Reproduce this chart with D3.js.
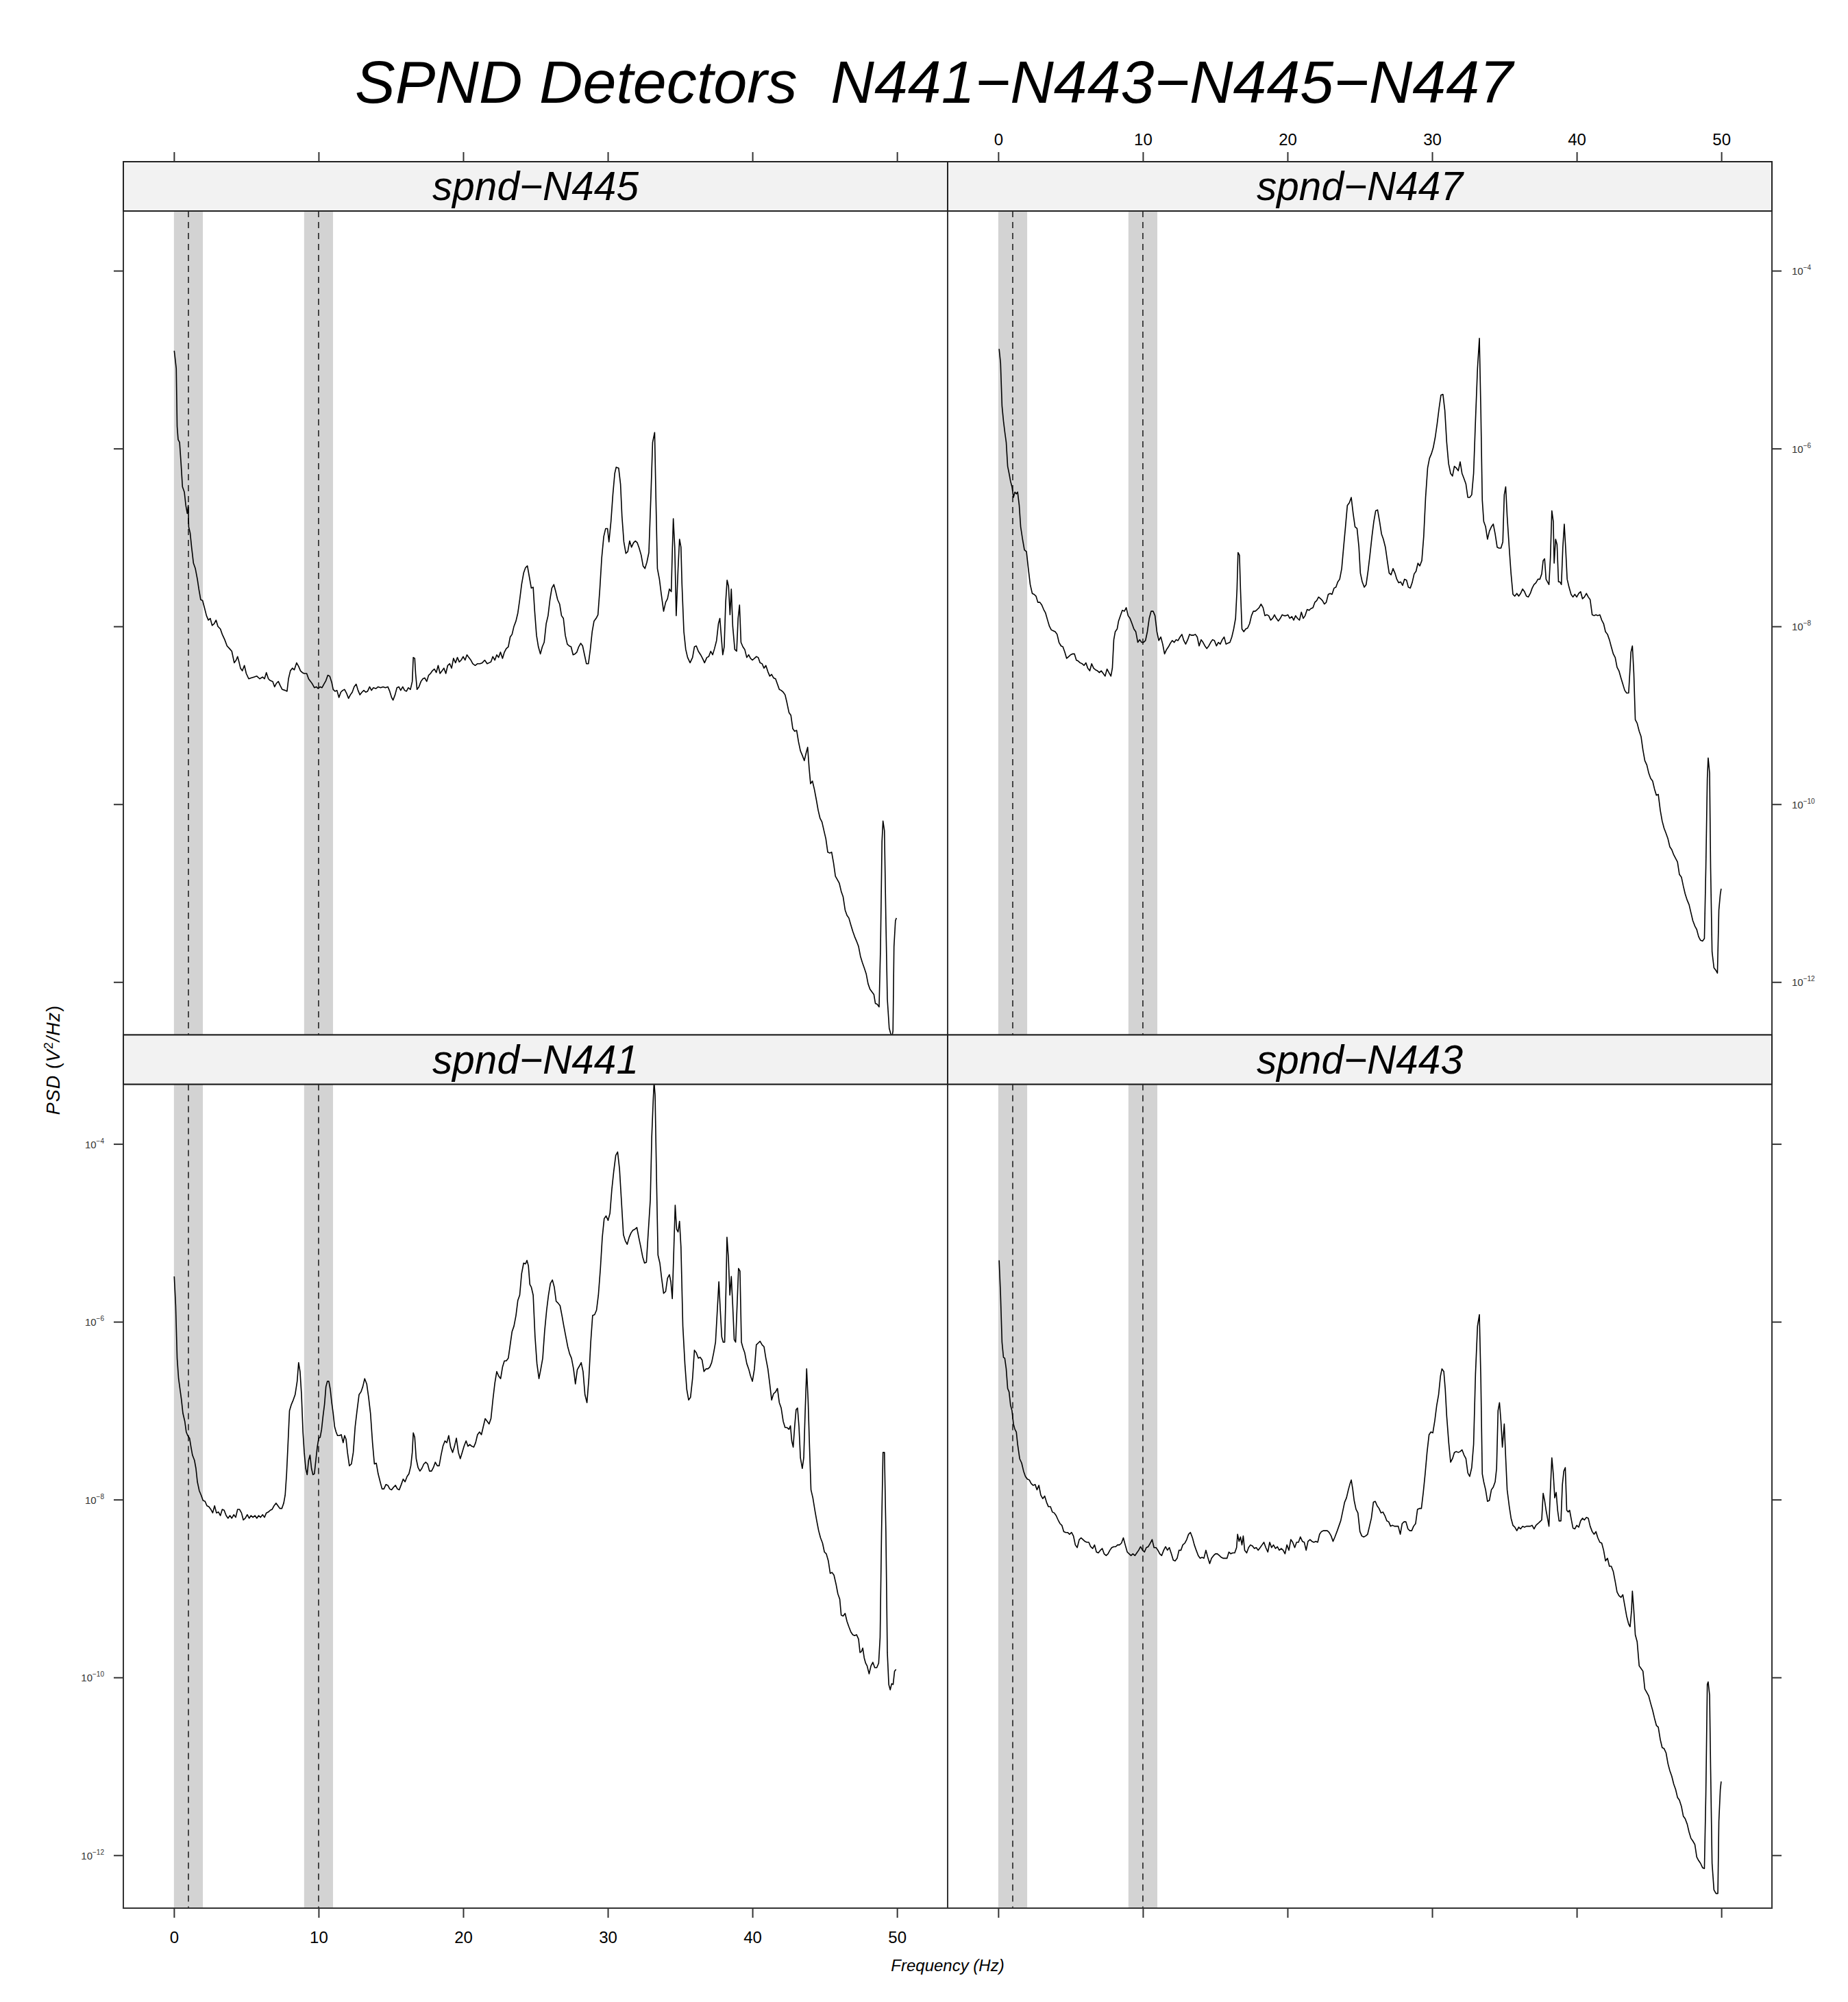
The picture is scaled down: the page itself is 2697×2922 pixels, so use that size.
<!DOCTYPE html>
<html><head><meta charset="utf-8">
<script src="https://cdn.jsdelivr.net/npm/d3@7"></script>
<style>
body{margin:0;background:#fff}
text{font-family:"Liberation Sans",Arial,Helvetica,sans-serif}
</style>
</head><body>
<svg id="chart"></svg>
<script>
// ---------------- data ----------------
const chartTitle = "SPND Detectors  N441\u2212N443\u2212N445\u2212N447";
const panelNames = ["spnd\u2212N445","spnd\u2212N447","spnd\u2212N441","spnd\u2212N443"];
const xTickValues = [0,10,20,30,40,50];
const yTickExponents = [-4,-6,-8,-10,-12];
const bandCenters = [1,10];      // Hz, dashed lines
const bandHalfWidth = 1;         // Hz, grey bands
const xLabel = "Frequency (Hz)";

// [frequency (Hz), log10 PSD (V^2/Hz)]
const seriesN445 = [[0.02,-4.90],[0.16,-5.10],[0.22,-5.75],[0.29,-5.90],[0.39,-5.93],[0.49,-6.17],[0.59,-6.43],[0.72,-6.49],[0.82,-6.64],[0.92,-6.73],[0.99,-6.64],[1.02,-6.88],[1.12,-6.95],[1.22,-7.11],[1.35,-7.29],[1.48,-7.35],[1.62,-7.47],[1.72,-7.58],[1.85,-7.70],[1.98,-7.71],[2.11,-7.79],[2.25,-7.88],[2.38,-7.93],[2.51,-7.91],[2.64,-7.99],[2.78,-7.97],[2.91,-7.93],[3.04,-8.00],[3.21,-8.03],[3.34,-8.09],[3.51,-8.15],[3.67,-8.22],[3.84,-8.25],[4.00,-8.28],[4.17,-8.41],[4.30,-8.38],[4.40,-8.34],[4.50,-8.40],[4.60,-8.47],[4.73,-8.50],[4.87,-8.44],[5.00,-8.53],[5.17,-8.59],[5.33,-8.58],[5.53,-8.57],[5.73,-8.56],[5.93,-8.59],[6.13,-8.57],[6.26,-8.59],[6.39,-8.52],[6.53,-8.59],[6.66,-8.61],[6.83,-8.62],[6.96,-8.68],[7.09,-8.64],[7.22,-8.62],[7.36,-8.67],[7.49,-8.71],[7.69,-8.72],[7.82,-8.73],[7.92,-8.59],[8.05,-8.50],[8.19,-8.47],[8.32,-8.49],[8.48,-8.41],[8.62,-8.45],[8.75,-8.50],[8.88,-8.52],[9.01,-8.53],[9.18,-8.53],[9.31,-8.59],[9.45,-8.62],[9.58,-8.65],[9.71,-8.69],[9.84,-8.68],[9.98,-8.70],[10.11,-8.68],[10.24,-8.69],[10.37,-8.65],[10.51,-8.61],[10.64,-8.55],[10.77,-8.56],[10.91,-8.63],[11.01,-8.71],[11.14,-8.73],[11.27,-8.72],[11.41,-8.80],[11.54,-8.74],[11.67,-8.72],[11.80,-8.71],[11.93,-8.75],[12.07,-8.81],[12.20,-8.77],[12.33,-8.74],[12.46,-8.68],[12.60,-8.65],[12.73,-8.72],[12.86,-8.77],[13.00,-8.74],[13.13,-8.72],[13.26,-8.74],[13.39,-8.73],[13.53,-8.68],[13.66,-8.72],[13.79,-8.69],[13.96,-8.70],[14.12,-8.68],[14.29,-8.69],[14.46,-8.68],[14.62,-8.69],[14.79,-8.68],[14.92,-8.73],[15.05,-8.80],[15.15,-8.83],[15.29,-8.77],[15.42,-8.69],[15.55,-8.68],[15.68,-8.72],[15.82,-8.68],[15.95,-8.72],[16.08,-8.73],[16.21,-8.69],[16.35,-8.71],[16.48,-8.62],[16.55,-8.35],[16.65,-8.36],[16.71,-8.53],[16.81,-8.71],[16.94,-8.68],[17.08,-8.62],[17.21,-8.59],[17.34,-8.58],[17.48,-8.62],[17.61,-8.55],[17.74,-8.53],[17.87,-8.50],[18.01,-8.48],[18.14,-8.52],[18.27,-8.44],[18.40,-8.53],[18.54,-8.50],[18.67,-8.47],[18.80,-8.53],[18.93,-8.44],[19.07,-8.42],[19.20,-8.47],[19.33,-8.36],[19.47,-8.41],[19.60,-8.35],[19.73,-8.40],[19.86,-8.38],[20.00,-8.34],[20.13,-8.38],[20.26,-8.32],[20.39,-8.35],[20.53,-8.38],[20.66,-8.42],[20.83,-8.44],[20.99,-8.42],[21.16,-8.42],[21.32,-8.41],[21.49,-8.38],[21.66,-8.42],[21.79,-8.41],[21.92,-8.40],[22.05,-8.34],[22.19,-8.38],[22.32,-8.32],[22.45,-8.35],[22.58,-8.29],[22.72,-8.36],[22.85,-8.29],[22.98,-8.25],[23.12,-8.23],[23.25,-8.12],[23.38,-8.09],[23.51,-8.00],[23.65,-7.94],[23.78,-7.85],[23.91,-7.70],[24.04,-7.53],[24.18,-7.40],[24.31,-7.34],[24.44,-7.32],[24.57,-7.44],[24.71,-7.57],[24.84,-7.56],[24.94,-7.82],[25.07,-8.10],[25.20,-8.23],[25.34,-8.31],[25.47,-8.23],[25.60,-8.18],[25.74,-7.97],[25.87,-7.88],[26.00,-7.70],[26.13,-7.57],[26.27,-7.53],[26.40,-7.61],[26.53,-7.70],[26.67,-7.75],[26.80,-7.88],[26.93,-7.91],[27.06,-8.10],[27.20,-8.20],[27.33,-8.22],[27.46,-8.23],[27.60,-8.32],[27.73,-8.31],[27.86,-8.29],[27.99,-8.23],[28.13,-8.19],[28.26,-8.22],[28.39,-8.32],[28.52,-8.42],[28.66,-8.42],[28.79,-8.26],[28.92,-8.06],[29.05,-7.94],[29.19,-7.91],[29.32,-7.87],[29.45,-7.58],[29.58,-7.23],[29.72,-6.99],[29.85,-6.90],[29.98,-6.90],[30.08,-7.05],[30.22,-6.82],[30.35,-6.52],[30.48,-6.28],[30.58,-6.21],[30.75,-6.22],[30.88,-6.40],[30.98,-6.76],[31.11,-7.05],[31.25,-7.18],[31.38,-7.16],[31.51,-7.04],[31.64,-7.11],[31.78,-7.06],[31.91,-7.04],[32.04,-7.06],[32.17,-7.12],[32.31,-7.20],[32.44,-7.32],[32.57,-7.35],[32.70,-7.28],[32.84,-7.17],[32.97,-6.58],[33.10,-5.93],[33.24,-5.82],[33.33,-6.58],[33.43,-7.35],[33.57,-7.47],[33.70,-7.64],[33.86,-7.83],[34.00,-7.73],[34.13,-7.69],[34.26,-7.58],[34.39,-7.61],[34.46,-7.17],[34.53,-6.79],[34.63,-7.11],[34.73,-7.88],[34.86,-7.35],[34.96,-7.02],[35.06,-7.11],[35.13,-7.53],[35.26,-8.06],[35.39,-8.26],[35.52,-8.35],[35.69,-8.41],[35.86,-8.35],[35.99,-8.23],[36.12,-8.22],[36.26,-8.28],[36.42,-8.32],[36.55,-8.36],[36.69,-8.41],[36.85,-8.35],[36.98,-8.34],[37.12,-8.28],[37.25,-8.32],[37.38,-8.25],[37.52,-8.16],[37.65,-7.97],[37.75,-7.91],[37.85,-8.12],[37.95,-8.32],[38.05,-8.23],[38.15,-7.73],[38.25,-7.48],[38.35,-7.55],[38.45,-7.87],[38.54,-7.58],[38.64,-8.00],[38.78,-8.26],[38.91,-8.28],[39.01,-7.91],[39.11,-7.76],[39.21,-8.18],[39.34,-8.23],[39.47,-8.26],[39.61,-8.35],[39.74,-8.32],[39.87,-8.36],[40.00,-8.38],[40.14,-8.36],[40.27,-8.34],[40.40,-8.35],[40.53,-8.41],[40.67,-8.42],[40.80,-8.47],[40.93,-8.44],[41.07,-8.51],[41.20,-8.56],[41.33,-8.54],[41.46,-8.58],[41.60,-8.59],[41.73,-8.65],[41.86,-8.71],[41.99,-8.72],[42.13,-8.74],[42.26,-8.77],[42.39,-8.86],[42.53,-8.97],[42.66,-9.00],[42.79,-9.15],[42.92,-9.18],[43.06,-9.17],[43.19,-9.30],[43.32,-9.40],[43.45,-9.45],[43.59,-9.51],[43.72,-9.42],[43.82,-9.36],[43.92,-9.59],[44.02,-9.77],[44.15,-9.74],[44.28,-9.83],[44.42,-9.95],[44.55,-10.07],[44.68,-10.16],[44.81,-10.20],[44.95,-10.30],[45.08,-10.39],[45.21,-10.54],[45.35,-10.55],[45.48,-10.54],[45.61,-10.66],[45.74,-10.81],[45.88,-10.85],[46.01,-10.89],[46.14,-10.98],[46.27,-11.04],[46.41,-11.19],[46.54,-11.25],[46.67,-11.28],[46.81,-11.36],[46.94,-11.43],[47.07,-11.49],[47.20,-11.54],[47.34,-11.60],[47.47,-11.71],[47.60,-11.78],[47.73,-11.84],[47.87,-11.91],[48.00,-12.02],[48.13,-12.08],[48.26,-12.11],[48.40,-12.14],[48.50,-12.24],[48.63,-12.25],[48.76,-12.28],[48.86,-11.60],[48.96,-10.42],[49.03,-10.19],[49.13,-10.30],[49.23,-11.31],[49.33,-12.19],[49.46,-12.52],[49.56,-12.58],[49.66,-12.61],[49.72,-12.55],[49.79,-11.60],[49.89,-11.31],[49.96,-11.28]];

const seriesN447 = [[0.06,-4.88],[0.16,-5.04],[0.26,-5.52],[0.36,-5.69],[0.45,-5.81],[0.55,-5.93],[0.65,-6.20],[0.75,-6.28],[0.85,-6.37],[0.95,-6.43],[1.05,-6.55],[1.15,-6.49],[1.25,-6.51],[1.34,-6.49],[1.45,-6.64],[1.55,-6.88],[1.68,-7.02],[1.81,-7.14],[1.95,-7.16],[2.08,-7.35],[2.21,-7.53],[2.35,-7.63],[2.48,-7.64],[2.61,-7.66],[2.74,-7.73],[2.88,-7.73],[3.01,-7.76],[3.14,-7.81],[3.27,-7.85],[3.41,-7.93],[3.54,-8.00],[3.67,-8.04],[3.81,-8.05],[3.94,-8.06],[4.07,-8.09],[4.20,-8.18],[4.34,-8.22],[4.47,-8.23],[4.60,-8.29],[4.73,-8.36],[4.87,-8.34],[5.00,-8.32],[5.13,-8.31],[5.27,-8.31],[5.40,-8.38],[5.53,-8.39],[5.66,-8.41],[5.80,-8.42],[5.93,-8.44],[6.06,-8.41],[6.19,-8.47],[6.33,-8.50],[6.46,-8.42],[6.59,-8.47],[6.73,-8.49],[6.86,-8.50],[6.99,-8.52],[7.12,-8.50],[7.26,-8.53],[7.39,-8.56],[7.52,-8.48],[7.65,-8.52],[7.79,-8.56],[7.89,-8.47],[7.99,-8.15],[8.09,-8.06],[8.22,-8.03],[8.32,-7.94],[8.45,-7.88],[8.58,-7.82],[8.72,-7.83],[8.85,-7.79],[8.98,-7.88],[9.11,-7.91],[9.25,-7.97],[9.38,-8.03],[9.51,-8.06],[9.65,-8.18],[9.78,-8.15],[9.91,-8.18],[10.04,-8.18],[10.18,-8.16],[10.31,-8.06],[10.44,-7.91],[10.57,-7.83],[10.71,-7.83],[10.84,-7.88],[10.97,-8.06],[11.10,-8.16],[11.24,-8.12],[11.37,-8.20],[11.50,-8.31],[11.64,-8.26],[11.77,-8.23],[11.90,-8.19],[12.03,-8.16],[12.17,-8.18],[12.30,-8.15],[12.43,-8.16],[12.57,-8.12],[12.70,-8.09],[12.83,-8.16],[12.96,-8.20],[13.10,-8.15],[13.23,-8.09],[13.36,-8.10],[13.49,-8.10],[13.63,-8.09],[13.76,-8.12],[13.89,-8.22],[14.03,-8.15],[14.16,-8.18],[14.29,-8.22],[14.42,-8.25],[14.56,-8.22],[14.69,-8.18],[14.82,-8.15],[14.95,-8.16],[15.09,-8.22],[15.22,-8.18],[15.35,-8.20],[15.49,-8.15],[15.62,-8.12],[15.75,-8.20],[15.88,-8.19],[16.02,-8.18],[16.15,-8.12],[16.28,-8.03],[16.41,-7.91],[16.51,-7.58],[16.58,-7.17],[16.68,-7.20],[16.75,-7.58],[16.85,-8.03],[16.98,-8.06],[17.11,-8.03],[17.24,-8.02],[17.38,-7.97],[17.51,-7.88],[17.64,-7.83],[17.77,-7.83],[17.91,-7.81],[18.04,-7.79],[18.17,-7.75],[18.31,-7.79],[18.44,-7.88],[18.57,-7.87],[18.70,-7.88],[18.84,-7.93],[18.97,-7.91],[19.10,-7.87],[19.23,-7.91],[19.37,-7.94],[19.50,-7.91],[19.63,-7.87],[19.76,-7.88],[19.90,-7.88],[20.03,-7.87],[20.16,-7.91],[20.30,-7.89],[20.43,-7.93],[20.56,-7.88],[20.69,-7.91],[20.83,-7.93],[20.96,-7.84],[21.09,-7.91],[21.22,-7.88],[21.36,-7.81],[21.49,-7.82],[21.62,-7.80],[21.76,-7.79],[21.89,-7.73],[22.02,-7.71],[22.15,-7.67],[22.29,-7.69],[22.42,-7.71],[22.55,-7.75],[22.68,-7.73],[22.82,-7.64],[22.95,-7.63],[23.08,-7.64],[23.22,-7.57],[23.35,-7.56],[23.48,-7.50],[23.61,-7.47],[23.75,-7.35],[23.88,-7.11],[24.01,-6.88],[24.14,-6.64],[24.28,-6.61],[24.41,-6.55],[24.54,-6.73],[24.67,-6.88],[24.81,-6.90],[24.94,-7.11],[25.04,-7.40],[25.17,-7.50],[25.31,-7.56],[25.44,-7.53],[25.57,-7.38],[25.70,-7.20],[25.84,-6.99],[25.97,-6.82],[26.10,-6.70],[26.23,-6.69],[26.37,-6.82],[26.50,-6.96],[26.63,-7.02],[26.77,-7.11],[26.90,-7.26],[27.03,-7.40],[27.16,-7.42],[27.30,-7.35],[27.43,-7.40],[27.56,-7.47],[27.69,-7.51],[27.83,-7.50],[27.96,-7.54],[28.09,-7.47],[28.23,-7.48],[28.36,-7.56],[28.49,-7.57],[28.62,-7.51],[28.76,-7.41],[28.89,-7.38],[29.02,-7.29],[29.15,-7.32],[29.29,-7.26],[29.42,-6.99],[29.55,-6.55],[29.69,-6.22],[29.82,-6.11],[29.95,-6.06],[30.08,-5.99],[30.22,-5.87],[30.35,-5.72],[30.48,-5.55],[30.61,-5.40],[30.75,-5.39],[30.88,-5.57],[31.01,-5.93],[31.14,-6.17],[31.28,-6.28],[31.41,-6.31],[31.54,-6.20],[31.68,-6.22],[31.81,-6.25],[31.94,-6.15],[32.07,-6.28],[32.21,-6.34],[32.34,-6.40],[32.47,-6.55],[32.60,-6.55],[32.74,-6.52],[32.87,-6.28],[33.00,-5.69],[33.14,-5.10],[33.27,-4.76],[33.37,-5.57],[33.47,-6.58],[33.57,-6.82],[33.70,-6.88],[33.83,-7.02],[33.96,-6.93],[34.10,-6.88],[34.23,-6.85],[34.36,-6.96],[34.50,-7.11],[34.63,-7.12],[34.76,-7.12],[34.89,-7.05],[34.99,-6.52],[35.09,-6.43],[35.19,-6.76],[35.33,-7.11],[35.46,-7.41],[35.59,-7.64],[35.72,-7.66],[35.86,-7.63],[35.99,-7.66],[36.12,-7.63],[36.26,-7.58],[36.39,-7.61],[36.52,-7.66],[36.65,-7.67],[36.79,-7.63],[36.92,-7.57],[37.05,-7.53],[37.18,-7.51],[37.32,-7.47],[37.45,-7.47],[37.58,-7.41],[37.68,-7.26],[37.78,-7.24],[37.88,-7.47],[37.98,-7.50],[38.08,-7.53],[38.18,-7.23],[38.28,-6.70],[38.38,-6.82],[38.44,-7.29],[38.54,-7.02],[38.64,-7.08],[38.74,-7.50],[38.84,-7.50],[38.94,-7.53],[39.04,-7.11],[39.14,-6.85],[39.24,-7.14],[39.34,-7.47],[39.47,-7.56],[39.61,-7.64],[39.74,-7.67],[39.87,-7.64],[40.00,-7.67],[40.14,-7.63],[40.27,-7.61],[40.40,-7.69],[40.53,-7.67],[40.67,-7.63],[40.80,-7.67],[40.93,-7.70],[41.07,-7.87],[41.20,-7.88],[41.33,-7.87],[41.46,-7.88],[41.60,-7.87],[41.73,-7.93],[41.86,-7.97],[41.99,-8.06],[42.13,-8.09],[42.26,-8.15],[42.39,-8.23],[42.53,-8.31],[42.66,-8.35],[42.79,-8.46],[42.92,-8.50],[43.06,-8.58],[43.19,-8.65],[43.32,-8.72],[43.45,-8.75],[43.59,-8.75],[43.69,-8.47],[43.75,-8.29],[43.85,-8.22],[43.95,-8.53],[44.05,-9.05],[44.18,-9.09],[44.32,-9.18],[44.45,-9.24],[44.58,-9.39],[44.71,-9.51],[44.85,-9.56],[44.98,-9.65],[45.11,-9.71],[45.25,-9.74],[45.38,-9.83],[45.51,-9.90],[45.64,-9.89],[45.78,-10.07],[45.91,-10.19],[46.04,-10.27],[46.18,-10.33],[46.31,-10.39],[46.44,-10.48],[46.57,-10.51],[46.71,-10.57],[46.84,-10.61],[46.97,-10.65],[47.10,-10.79],[47.24,-10.82],[47.37,-10.92],[47.50,-11.01],[47.64,-11.08],[47.77,-11.13],[47.90,-11.22],[48.03,-11.31],[48.17,-11.37],[48.30,-11.41],[48.43,-11.49],[48.56,-11.53],[48.70,-11.54],[48.83,-11.51],[48.93,-10.72],[49.03,-9.71],[49.09,-9.48],[49.19,-9.65],[49.26,-10.72],[49.36,-11.66],[49.49,-11.84],[49.63,-11.87],[49.73,-11.90],[49.83,-11.19],[49.93,-11.01],[49.99,-10.95]];

const seriesN441 = [[0.02,-5.49],[0.12,-5.82],[0.22,-6.41],[0.32,-6.64],[0.42,-6.76],[0.52,-6.88],[0.62,-7.03],[0.75,-7.12],[0.85,-7.24],[0.95,-7.28],[1.08,-7.31],[1.18,-7.41],[1.28,-7.50],[1.42,-7.56],[1.52,-7.65],[1.62,-7.80],[1.75,-7.90],[1.88,-7.95],[2.01,-8.01],[2.15,-8.02],[2.28,-8.07],[2.41,-8.08],[2.55,-8.11],[2.68,-8.15],[2.81,-8.07],[2.94,-8.15],[3.08,-8.14],[3.21,-8.18],[3.34,-8.11],[3.47,-8.12],[3.61,-8.18],[3.74,-8.21],[3.87,-8.18],[4.00,-8.21],[4.14,-8.17],[4.27,-8.20],[4.40,-8.11],[4.53,-8.11],[4.67,-8.15],[4.80,-8.23],[4.93,-8.21],[5.07,-8.17],[5.20,-8.21],[5.33,-8.18],[5.46,-8.20],[5.60,-8.18],[5.73,-8.21],[5.86,-8.18],[5.99,-8.20],[6.13,-8.17],[6.26,-8.20],[6.39,-8.15],[6.53,-8.14],[6.66,-8.12],[6.79,-8.11],[6.92,-8.07],[7.06,-8.04],[7.19,-8.07],[7.32,-8.10],[7.46,-8.10],[7.59,-8.04],[7.69,-7.95],[7.79,-7.71],[7.89,-7.36],[7.99,-7.00],[8.12,-6.93],[8.25,-6.88],[8.38,-6.82],[8.52,-6.67],[8.62,-6.46],[8.72,-6.56],[8.82,-6.82],[8.92,-7.24],[9.01,-7.47],[9.11,-7.65],[9.21,-7.72],[9.31,-7.56],[9.41,-7.50],[9.51,-7.65],[9.61,-7.72],[9.71,-7.71],[9.81,-7.56],[9.91,-7.41],[10.01,-7.31],[10.11,-7.30],[10.21,-7.21],[10.31,-7.06],[10.41,-6.93],[10.51,-6.73],[10.61,-6.67],[10.71,-6.67],[10.81,-6.76],[10.91,-6.91],[11.01,-7.03],[11.11,-7.18],[11.21,-7.24],[11.31,-7.28],[11.44,-7.28],[11.57,-7.27],[11.70,-7.36],[11.80,-7.28],[11.90,-7.32],[12.00,-7.47],[12.13,-7.62],[12.27,-7.60],[12.40,-7.47],[12.53,-7.18],[12.66,-7.00],[12.80,-6.82],[12.93,-6.79],[13.06,-6.73],[13.19,-6.64],[13.33,-6.70],[13.46,-6.85],[13.59,-7.03],[13.73,-7.36],[13.86,-7.60],[13.99,-7.59],[14.12,-7.71],[14.26,-7.80],[14.39,-7.88],[14.52,-7.88],[14.66,-7.83],[14.79,-7.84],[14.92,-7.88],[15.05,-7.89],[15.19,-7.86],[15.32,-7.84],[15.45,-7.88],[15.58,-7.89],[15.72,-7.83],[15.85,-7.77],[15.98,-7.80],[16.12,-7.74],[16.25,-7.71],[16.38,-7.62],[16.48,-7.47],[16.55,-7.25],[16.65,-7.30],[16.75,-7.54],[16.88,-7.64],[17.01,-7.68],[17.14,-7.65],[17.28,-7.60],[17.41,-7.58],[17.54,-7.60],[17.67,-7.68],[17.81,-7.68],[17.94,-7.64],[18.07,-7.58],[18.21,-7.62],[18.34,-7.62],[18.47,-7.50],[18.60,-7.40],[18.74,-7.34],[18.87,-7.36],[19.00,-7.28],[19.13,-7.41],[19.27,-7.47],[19.40,-7.40],[19.53,-7.31],[19.67,-7.47],[19.80,-7.54],[19.93,-7.47],[20.06,-7.40],[20.20,-7.34],[20.33,-7.40],[20.46,-7.38],[20.59,-7.40],[20.73,-7.41],[20.86,-7.36],[20.99,-7.27],[21.13,-7.24],[21.26,-7.27],[21.39,-7.18],[21.52,-7.09],[21.66,-7.12],[21.79,-7.15],[21.92,-7.09],[22.06,-6.87],[22.19,-6.69],[22.32,-6.56],[22.45,-6.61],[22.59,-6.64],[22.72,-6.51],[22.85,-6.44],[22.98,-6.44],[23.12,-6.41],[23.25,-6.26],[23.38,-6.11],[23.51,-6.05],[23.65,-5.93],[23.78,-5.76],[23.91,-5.70],[24.04,-5.46],[24.18,-5.34],[24.31,-5.35],[24.41,-5.31],[24.51,-5.37],[24.61,-5.58],[24.71,-5.61],[24.84,-5.70],[24.97,-6.17],[25.10,-6.47],[25.24,-6.64],[25.37,-6.53],[25.50,-6.41],[25.63,-6.11],[25.77,-5.87],[25.90,-5.70],[26.03,-5.57],[26.17,-5.53],[26.30,-5.61],[26.43,-5.77],[26.56,-5.79],[26.70,-5.82],[26.83,-5.93],[26.96,-6.05],[27.10,-6.17],[27.23,-6.28],[27.36,-6.36],[27.49,-6.41],[27.63,-6.53],[27.76,-6.70],[27.89,-6.54],[28.03,-6.50],[28.16,-6.46],[28.29,-6.56],[28.42,-6.82],[28.56,-6.91],[28.69,-6.64],[28.82,-6.23],[28.95,-5.93],[29.09,-5.92],[29.22,-5.87],[29.35,-5.70],[29.49,-5.40],[29.62,-5.05],[29.75,-4.84],[29.88,-4.81],[30.02,-4.86],[30.15,-4.78],[30.28,-4.51],[30.41,-4.31],[30.55,-4.13],[30.68,-4.09],[30.81,-4.28],[30.95,-4.66],[31.08,-5.02],[31.21,-5.09],[31.34,-5.13],[31.48,-5.05],[31.61,-5.00],[31.74,-4.97],[31.87,-4.96],[32.01,-4.94],[32.14,-5.05],[32.27,-5.15],[32.41,-5.27],[32.54,-5.34],[32.67,-5.33],[32.80,-4.99],[32.94,-4.63],[33.04,-3.92],[33.14,-3.51],[33.20,-3.30],[33.27,-3.45],[33.37,-4.39],[33.47,-5.25],[33.60,-5.34],[33.73,-5.52],[33.86,-5.68],[34.00,-5.66],[34.13,-5.51],[34.26,-5.47],[34.36,-5.55],[34.46,-5.74],[34.56,-5.22],[34.66,-4.69],[34.76,-4.96],[34.86,-4.99],[34.96,-4.87],[35.06,-5.16],[35.19,-6.05],[35.33,-6.47],[35.46,-6.76],[35.59,-6.88],[35.72,-6.85],[35.86,-6.64],[35.99,-6.32],[36.12,-6.35],[36.26,-6.41],[36.39,-6.40],[36.52,-6.43],[36.65,-6.56],[36.79,-6.53],[36.92,-6.53],[37.05,-6.51],[37.18,-6.46],[37.32,-6.35],[37.45,-6.23],[37.58,-5.85],[37.68,-5.55],[37.78,-5.87],[37.88,-6.17],[37.98,-6.23],[38.08,-6.23],[38.18,-5.58],[38.24,-5.05],[38.34,-5.28],[38.44,-5.70],[38.54,-5.49],[38.64,-5.82],[38.74,-6.20],[38.84,-6.23],[38.94,-5.82],[39.04,-5.40],[39.14,-5.43],[39.24,-6.23],[39.34,-6.29],[39.47,-6.35],[39.61,-6.47],[39.74,-6.53],[39.87,-6.61],[40.00,-6.67],[40.14,-6.53],[40.27,-6.26],[40.40,-6.24],[40.53,-6.22],[40.67,-6.26],[40.80,-6.28],[40.93,-6.41],[41.07,-6.53],[41.20,-6.70],[41.33,-6.88],[41.46,-6.81],[41.60,-6.79],[41.73,-6.75],[41.86,-6.91],[41.99,-6.97],[42.13,-7.12],[42.26,-7.19],[42.39,-7.19],[42.53,-7.21],[42.63,-7.17],[42.72,-7.34],[42.82,-7.41],[42.92,-7.18],[43.02,-6.99],[43.12,-6.97],[43.22,-7.18],[43.32,-7.53],[43.45,-7.65],[43.55,-7.53],[43.65,-7.00],[43.75,-6.53],[43.85,-6.88],[43.95,-7.41],[44.05,-7.89],[44.18,-7.98],[44.32,-8.12],[44.45,-8.24],[44.58,-8.35],[44.71,-8.43],[44.85,-8.49],[44.98,-8.59],[45.11,-8.61],[45.25,-8.69],[45.38,-8.83],[45.51,-8.82],[45.64,-8.85],[45.78,-8.95],[45.91,-9.06],[46.04,-9.12],[46.14,-9.30],[46.27,-9.31],[46.41,-9.28],[46.54,-9.37],[46.67,-9.43],[46.81,-9.49],[46.94,-9.52],[47.07,-9.53],[47.20,-9.52],[47.34,-9.57],[47.44,-9.72],[47.54,-9.71],[47.63,-9.67],[47.73,-9.78],[47.83,-9.84],[47.93,-9.87],[48.07,-9.96],[48.20,-9.87],[48.33,-9.83],[48.46,-9.89],[48.60,-9.89],[48.73,-9.84],[48.83,-9.55],[48.93,-8.36],[49.03,-7.47],[49.13,-7.47],[49.23,-8.36],[49.33,-9.72],[49.43,-10.08],[49.53,-10.14],[49.63,-10.07],[49.73,-10.08],[49.83,-9.93],[49.93,-9.91]];

const seriesN443 = [[0.06,-5.31],[0.16,-5.70],[0.26,-6.23],[0.36,-6.40],[0.45,-6.41],[0.55,-6.53],[0.65,-6.75],[0.75,-6.79],[0.85,-6.94],[0.95,-7.00],[1.05,-7.15],[1.15,-7.21],[1.25,-7.24],[1.34,-7.38],[1.48,-7.54],[1.62,-7.59],[1.75,-7.68],[1.88,-7.74],[2.01,-7.77],[2.15,-7.78],[2.28,-7.82],[2.41,-7.84],[2.55,-7.83],[2.68,-7.89],[2.81,-7.84],[2.94,-7.95],[3.08,-7.99],[3.21,-7.96],[3.34,-8.03],[3.47,-8.08],[3.61,-8.08],[3.74,-8.14],[3.87,-8.15],[4.00,-8.18],[4.14,-8.23],[4.27,-8.27],[4.40,-8.29],[4.53,-8.36],[4.67,-8.37],[4.80,-8.37],[4.93,-8.39],[5.07,-8.37],[5.20,-8.41],[5.33,-8.51],[5.46,-8.54],[5.60,-8.45],[5.73,-8.43],[5.86,-8.45],[5.99,-8.47],[6.13,-8.48],[6.26,-8.48],[6.39,-8.53],[6.53,-8.55],[6.66,-8.51],[6.79,-8.59],[6.92,-8.60],[7.06,-8.57],[7.19,-8.55],[7.32,-8.61],[7.46,-8.63],[7.59,-8.61],[7.72,-8.57],[7.85,-8.54],[7.99,-8.53],[8.12,-8.53],[8.25,-8.51],[8.38,-8.51],[8.52,-8.49],[8.65,-8.43],[8.78,-8.51],[8.92,-8.59],[9.05,-8.61],[9.18,-8.63],[9.31,-8.61],[9.45,-8.63],[9.58,-8.60],[9.71,-8.57],[9.84,-8.53],[9.98,-8.57],[10.11,-8.59],[10.24,-8.54],[10.37,-8.53],[10.51,-8.49],[10.64,-8.45],[10.77,-8.54],[10.91,-8.54],[11.04,-8.57],[11.17,-8.61],[11.30,-8.63],[11.44,-8.57],[11.57,-8.53],[11.70,-8.57],[11.83,-8.54],[11.97,-8.61],[12.10,-8.68],[12.23,-8.69],[12.37,-8.66],[12.50,-8.57],[12.63,-8.57],[12.76,-8.51],[12.90,-8.49],[13.03,-8.45],[13.16,-8.39],[13.29,-8.37],[13.43,-8.43],[13.56,-8.51],[13.69,-8.57],[13.83,-8.63],[13.96,-8.66],[14.09,-8.65],[14.22,-8.66],[14.36,-8.57],[14.49,-8.65],[14.62,-8.72],[14.75,-8.66],[14.89,-8.63],[15.02,-8.61],[15.15,-8.61],[15.29,-8.63],[15.42,-8.65],[15.55,-8.66],[15.68,-8.66],[15.82,-8.66],[15.95,-8.59],[16.08,-8.61],[16.21,-8.60],[16.35,-8.60],[16.48,-8.54],[16.55,-8.39],[16.65,-8.47],[16.75,-8.42],[16.85,-8.51],[16.94,-8.41],[17.04,-8.57],[17.18,-8.60],[17.31,-8.54],[17.44,-8.51],[17.57,-8.52],[17.71,-8.55],[17.84,-8.54],[17.97,-8.57],[18.11,-8.54],[18.24,-8.51],[18.37,-8.48],[18.50,-8.54],[18.64,-8.59],[18.77,-8.48],[18.90,-8.54],[19.03,-8.51],[19.17,-8.55],[19.30,-8.53],[19.43,-8.57],[19.57,-8.55],[19.70,-8.57],[19.83,-8.61],[19.96,-8.51],[20.10,-8.57],[20.23,-8.45],[20.36,-8.48],[20.50,-8.54],[20.63,-8.48],[20.76,-8.48],[20.89,-8.42],[21.03,-8.47],[21.16,-8.48],[21.29,-8.57],[21.42,-8.47],[21.56,-8.45],[21.69,-8.47],[21.82,-8.48],[21.96,-8.47],[22.09,-8.48],[22.22,-8.39],[22.35,-8.36],[22.49,-8.35],[22.62,-8.35],[22.75,-8.35],[22.88,-8.37],[23.02,-8.41],[23.15,-8.47],[23.28,-8.42],[23.42,-8.36],[23.55,-8.30],[23.68,-8.24],[23.81,-8.14],[23.95,-8.03],[24.08,-7.98],[24.21,-7.89],[24.31,-7.83],[24.41,-7.78],[24.51,-7.88],[24.61,-8.01],[24.74,-8.11],[24.87,-8.15],[25.01,-8.36],[25.14,-8.41],[25.27,-8.42],[25.40,-8.41],[25.54,-8.39],[25.67,-8.30],[25.80,-8.21],[25.94,-8.03],[26.07,-8.02],[26.20,-8.07],[26.33,-8.10],[26.47,-8.15],[26.60,-8.14],[26.73,-8.18],[26.87,-8.24],[27.00,-8.25],[27.13,-8.30],[27.26,-8.29],[27.40,-8.30],[27.53,-8.30],[27.66,-8.30],[27.80,-8.39],[27.93,-8.27],[28.06,-8.25],[28.19,-8.25],[28.33,-8.33],[28.46,-8.35],[28.59,-8.35],[28.72,-8.30],[28.86,-8.27],[28.99,-8.11],[29.12,-8.10],[29.26,-8.10],[29.39,-7.92],[29.52,-7.71],[29.65,-7.47],[29.79,-7.27],[29.92,-7.24],[30.05,-7.25],[30.18,-7.12],[30.32,-6.94],[30.45,-6.82],[30.58,-6.61],[30.68,-6.53],[30.81,-6.56],[30.91,-6.76],[31.01,-7.06],[31.15,-7.36],[31.28,-7.58],[31.41,-7.54],[31.54,-7.47],[31.68,-7.46],[31.81,-7.47],[31.94,-7.46],[32.07,-7.44],[32.21,-7.50],[32.34,-7.54],[32.47,-7.70],[32.60,-7.74],[32.74,-7.64],[32.87,-7.38],[33.00,-6.59],[33.14,-6.05],[33.27,-5.92],[33.37,-6.64],[33.47,-7.71],[33.57,-7.80],[33.70,-7.89],[33.83,-8.02],[33.96,-8.01],[34.10,-7.89],[34.23,-7.86],[34.36,-7.80],[34.46,-7.65],[34.56,-7.00],[34.66,-6.91],[34.76,-7.12],[34.86,-7.41],[34.99,-7.15],[35.09,-7.53],[35.19,-7.89],[35.33,-8.07],[35.46,-8.21],[35.59,-8.29],[35.72,-8.31],[35.86,-8.35],[35.99,-8.31],[36.12,-8.33],[36.26,-8.30],[36.39,-8.31],[36.52,-8.30],[36.65,-8.30],[36.79,-8.30],[36.92,-8.29],[37.05,-8.33],[37.18,-8.29],[37.32,-8.27],[37.45,-8.25],[37.58,-8.23],[37.68,-7.93],[37.78,-8.01],[37.88,-8.12],[37.98,-8.21],[38.08,-8.30],[38.18,-7.89],[38.28,-7.53],[38.38,-7.71],[38.48,-7.98],[38.58,-7.92],[38.68,-8.12],[38.78,-8.24],[38.91,-8.24],[39.01,-7.83],[39.11,-7.68],[39.21,-7.64],[39.31,-8.12],[39.41,-8.14],[39.51,-8.12],[39.61,-8.21],[39.74,-8.32],[39.87,-8.33],[40.00,-8.29],[40.14,-8.31],[40.27,-8.24],[40.40,-8.21],[40.53,-8.23],[40.67,-8.20],[40.80,-8.21],[40.93,-8.30],[41.07,-8.36],[41.20,-8.39],[41.33,-8.36],[41.46,-8.43],[41.60,-8.48],[41.73,-8.49],[41.86,-8.57],[41.99,-8.69],[42.13,-8.66],[42.26,-8.75],[42.39,-8.75],[42.53,-8.81],[42.66,-8.92],[42.79,-9.04],[42.92,-9.08],[43.06,-9.10],[43.19,-9.07],[43.32,-9.19],[43.45,-9.31],[43.59,-9.40],[43.69,-9.43],[43.79,-9.25],[43.85,-9.03],[43.95,-9.25],[44.05,-9.52],[44.18,-9.60],[44.32,-9.87],[44.45,-9.90],[44.58,-9.93],[44.71,-10.13],[44.85,-10.17],[44.98,-10.21],[45.11,-10.29],[45.25,-10.37],[45.38,-10.46],[45.51,-10.54],[45.64,-10.56],[45.78,-10.70],[45.91,-10.79],[46.04,-10.80],[46.18,-10.85],[46.31,-10.97],[46.44,-11.05],[46.57,-11.11],[46.71,-11.20],[46.84,-11.26],[46.97,-11.35],[47.10,-11.38],[47.24,-11.45],[47.37,-11.56],[47.50,-11.59],[47.64,-11.65],[47.77,-11.74],[47.90,-11.81],[48.03,-11.84],[48.17,-11.88],[48.30,-12.02],[48.43,-12.06],[48.56,-12.09],[48.70,-12.14],[48.83,-12.15],[48.93,-11.32],[49.03,-10.08],[49.09,-10.05],[49.19,-10.20],[49.26,-11.03],[49.36,-12.09],[49.49,-12.39],[49.63,-12.43],[49.76,-12.43],[49.83,-11.62],[49.93,-11.26],[49.99,-11.17]];

// ---------------- layout ----------------
const W = 2697, H = 2922;
const colX = [180, 1383], panelW = 1203;
const stripH = 72;
const rowStripTop = [236, 1510.5];
const plotH = 1202.5;
const xDomain = [-3.5, 53.5];
const yDomainLog = [-12.595, -3.329];
const FONT = '"Liberation Sans", Arial, Helvetica, sans-serif';

const svg = d3.select("#chart").attr("width", W).attr("height", H)
  .style("background", "#fff");
svg.append("rect").attr("width", W).attr("height", H).attr("fill", "#fff");

const panels = [
  {name: panelNames[0], data: seriesN445, col: 0, row: 0, top: "ticks", left: "ticks"},
  {name: panelNames[1], data: seriesN447, col: 1, row: 0, top: "labels", right: "labels"},
  {name: panelNames[2], data: seriesN441, col: 0, row: 1, bottom: "labels", left: "labels"},
  {name: panelNames[3], data: seriesN443, col: 1, row: 1, bottom: "ticks", right: "ticks"}
];

const defs = svg.append("defs");

panels.forEach((p, i) => {
  const x0 = colX[p.col];
  const stripTop = rowStripTop[p.row];
  const plotTop = stripTop + stripH;
  const plotBottom = plotTop + plotH;

  const x = d3.scaleLinear().domain(xDomain).range([x0, x0 + panelW]);
  const y = d3.scaleLog().domain(yDomainLog.map(v => Math.pow(10, v))).range([plotBottom, plotTop]);

  const g = svg.append("g");

  defs.append("clipPath").attr("id", "clip" + i)
    .append("rect").attr("x", x0).attr("y", plotTop).attr("width", panelW).attr("height", plotH);

  // grey bands + dashed centre lines
  bandCenters.forEach(c => {
    g.append("rect")
      .attr("x", x(c - bandHalfWidth)).attr("y", plotTop)
      .attr("width", x(c + bandHalfWidth) - x(c - bandHalfWidth)).attr("height", plotH)
      .attr("fill", "#d3d3d3");
  });
  bandCenters.forEach(c => {
    g.append("line")
      .attr("x1", x(c)).attr("x2", x(c)).attr("y1", plotTop).attr("y2", plotBottom)
      .attr("stroke", "#222").attr("stroke-width", 1.6).attr("stroke-dasharray", "9,7");
  });

  // PSD line
  const line = d3.line().x(d => x(d[0])).y(d => y(Math.pow(10, d[1])));
  g.append("path").datum(p.data)
    .attr("clip-path", "url(#clip" + i + ")")
    .attr("d", line).attr("fill", "none")
    .attr("stroke", "#000").attr("stroke-width", 1.6).attr("stroke-linejoin", "round");

  // panel border
  g.append("rect").attr("x", x0).attr("y", plotTop).attr("width", panelW).attr("height", plotH)
    .attr("fill", "none").attr("stroke", "#333").attr("stroke-width", 2);

  // strip
  g.append("rect").attr("x", x0).attr("y", stripTop).attr("width", panelW).attr("height", stripH)
    .attr("fill", "#f2f2f2").attr("stroke", "#222").attr("stroke-width", 2);
  g.append("text").attr("x", x0 + panelW / 2).attr("y", stripTop + stripH / 2 + 20)
    .attr("text-anchor", "middle").attr("font-size", 58.5).attr("font-style", "italic")
    .attr("fill", "#000").text(p.name);

  // axes
  const tickLen = 14;
  const xAxisStyle = sel => {
    sel.select(".domain").remove();
    sel.selectAll(".tick line").attr("stroke", "#333").attr("stroke-width", 2);
    sel.selectAll(".tick text").attr("font-size", 24).attr("font-family", FONT).attr("fill", "#000");
  };
  if (p.top) {
    const ax = d3.axisTop(x).tickValues(xTickValues).tickSize(tickLen).tickPadding(10)
      .tickFormat(p.top === "labels" ? d3.format("d") : () => "");
    svg.append("g").attr("transform", `translate(0,${stripTop})`).call(ax).call(xAxisStyle);
  }
  if (p.bottom) {
    const ax = d3.axisBottom(x).tickValues(xTickValues).tickSize(tickLen).tickPadding(20)
      .tickFormat(p.bottom === "labels" ? d3.format("d") : () => "");
    svg.append("g").attr("transform", `translate(0,${plotBottom})`).call(ax).call(xAxisStyle);
  }
  const yTicks = yTickExponents.map(e => Math.pow(10, e));
  const yAxisDraw = (side, mode) => {
    const ax = (side === "left" ? d3.axisLeft(y) : d3.axisRight(y))
      .tickValues(yTicks).tickSize(tickLen).tickFormat(() => "");
    const gx = side === "left" ? x0 : x0 + panelW;
    const ag = svg.append("g").attr("transform", `translate(${gx},0)`).call(ax);
    ag.select(".domain").remove();
    ag.selectAll(".tick line").attr("stroke", "#333").attr("stroke-width", 2);
    if (mode === "labels") {
      yTickExponents.forEach(e => {
        const ty = y(Math.pow(10, e));
        const t = svg.append("text")
          .attr("x", side === "left" ? gx - tickLen - 14 : gx + tickLen + 15)
          .attr("y", ty + 6)
          .attr("text-anchor", side === "left" ? "end" : "start")
          .attr("fill", "#333").attr("font-size", 15);
        t.append("tspan").text("10");
        t.append("tspan").attr("font-size", 10).attr("dy", -7).text("\u2212" + Math.abs(e));
      });
    }
  };
  if (p.left) yAxisDraw("left", p.left);
  if (p.right) yAxisDraw("right", p.right);
});

// title (double space preserved)
svg.append("text").attr("x", 1363).attr("y", 150).attr("text-anchor", "middle")
  .attr("xml:space", "preserve").style("white-space", "pre")
  .attr("font-size", 88).attr("font-style", "italic").attr("fill", "#000").text(chartTitle);

// x label
svg.append("text").attr("x", 1383).attr("y", 2877).attr("text-anchor", "middle")
  .attr("font-size", 24).attr("font-style", "italic").attr("fill", "#000").text(xLabel);

// y label
const yl = svg.append("text").attr("transform", "translate(87,1547) rotate(-90)")
  .attr("text-anchor", "middle").attr("font-size", 27).attr("fill", "#000")
  .attr("letter-spacing", 1).style("white-space", "pre");
yl.append("tspan").attr("font-style", "italic").text("PSD");
yl.append("tspan").text(" (");
yl.append("tspan").attr("font-style", "italic").text("V");
yl.append("tspan").attr("font-size", 18).attr("dy", -10).text("2");
yl.append("tspan").attr("font-style", "italic").attr("dy", 10).text("/Hz");
yl.append("tspan").text(")");
</script>
</body></html>
